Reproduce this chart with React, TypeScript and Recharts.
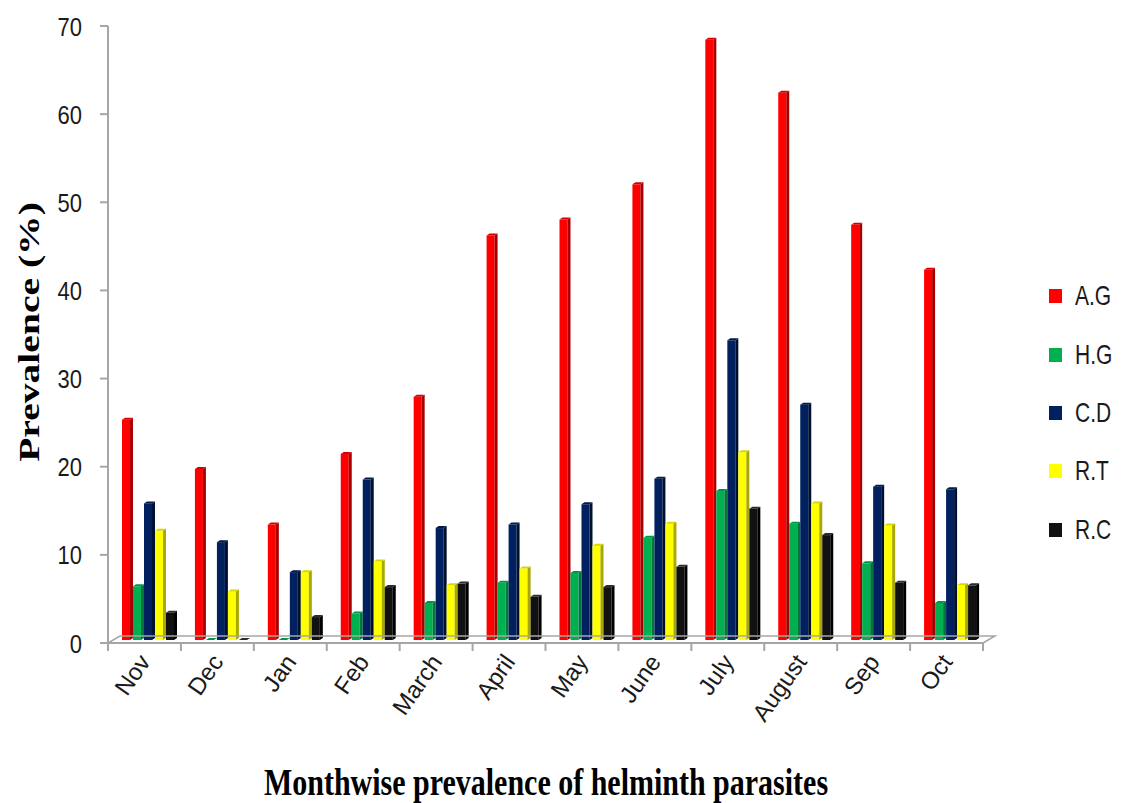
import React from 'react';
import { BarChart, Bar, XAxis, YAxis } from 'recharts';

// Month categories (Nov to Oct)
const months = ['Nov', 'Dec', 'Jan', 'Feb', 'March', 'April', 'May', 'June', 'July', 'August', 'Sep', 'Oct'];

// Prevalence (%) per parasite
const agValues = [25.0, 19.4, 13.1, 21.1, 27.6, 45.9, 47.7, 51.7, 68.1, 62.1, 47.1, 42.0];
const hgValues = [6.1, 0, 0, 3.0, 4.2, 6.5, 7.6, 11.6, 16.9, 13.2, 8.7, 4.2];
const cdValues = [15.5, 11.1, 7.7, 18.2, 12.7, 13.1, 15.4, 18.3, 34.0, 26.7, 17.4, 17.1];
const rtValues = [12.4, 5.5, 7.7, 8.9, 6.2, 8.1, 10.7, 13.2, 21.3, 15.5, 13.0, 6.2];
const rcValues = [3.1, 0, 2.6, 6.0, 6.4, 4.9, 6.0, 8.3, 14.9, 11.9, 6.5, 6.2];

const seriesNames = ['A.G', 'H.G', 'C.D', 'R.T', 'R.C'];
const seriesKeys = ['ag', 'hg', 'cd', 'rt', 'rc'];
const frontColors = ['#FF0000', '#00B050', '#002060', '#FFFF00', '#111111'];
const sideColors = ['#A80000', '#00783A', '#00112F', '#A8A800', '#000000'];
const topColors = ['#D40000', '#009444', '#001845', '#D6D600', '#2A2A2A'];

const yTicks = [0, 10, 20, 30, 40, 50, 60, 70];

const data = months.map((m, i) => ({
  month: m,
  ag: agValues[i],
  hg: hgValues[i],
  cd: cdValues[i],
  rt: rtValues[i],
  rc: rcValues[i],
}));

const CHART_W = 1105;
const CHART_H = 795;
const MARGIN = { top: 18, right: 130, bottom: 100, left: 0 };
const Y_AXIS_W = 100;
const X_AXIS_H = 60;
const PLOT_W = CHART_W - MARGIN.left - MARGIN.right - Y_AXIS_W;
const BAND = PLOT_W / months.length;

const AXIS_GRAY = '#A6A6A6';
const SANS = '"Liberation Sans", Arial, sans-serif';
const SERIF = '"Liberation Serif", "Times New Roman", serif';

// Bar with a shallow 3-D look: front face, darker right side and a top bevel
const make3DBar = (idx: number) => (props: any) => {
  const { x, y, width, height } = props;
  const d = 3;
  const shiftX = 6;
  const shiftY = -3;
  const h = Math.max(height || 0, 0);
  const fx = x + shiftX;
  const fy = y + shiftY;
  const fw = Math.max(width - d, 1);
  return (
    <g>
      <rect x={fx} y={fy} width={fw} height={h} fill={frontColors[idx]} />
      <polygon
        points={`${fx + fw},${fy} ${fx + fw + d},${fy - 2} ${fx + fw + d},${fy + h - 2} ${fx + fw},${fy + h}`}
        fill={sideColors[idx]}
      />
      <polygon
        points={`${fx},${fy} ${fx + d},${fy - 2} ${fx + fw + d},${fy - 2} ${fx + fw},${fy}`}
        fill={topColors[idx]}
      />
    </g>
  );
};

const MonthTick = (props: any) => {
  const { x, y, payload, index } = props;
  const half = BAND / 2;
  const last = index === months.length - 1;
  return (
    <g>
      {index === 0 && (
        <path
          d={`M ${x - half} ${y} L ${x - half + 12} ${y - 7} L ${x - half + PLOT_W + 12} ${y - 7} L ${x - half + PLOT_W} ${y}`}
          fill="none"
          stroke={AXIS_GRAY}
          strokeWidth={1.5}
        />
      )}
      <line x1={x - half} y1={y} x2={x - half} y2={y + 8} stroke={AXIS_GRAY} strokeWidth={2} />
      {last && <line x1={x + half} y1={y} x2={x + half} y2={y + 8} stroke={AXIS_GRAY} strokeWidth={2} />}
      <text
        transform={`translate(${x + 7},${y + 19}) rotate(-55)`}
        textAnchor="end"
        fontFamily={SANS}
        fontSize={24}
        fill="#1a1a1a"
      >
        {payload.value}
      </text>
    </g>
  );
};

const ValueTick = (props: any) => {
  const { x, y, payload } = props;
  return (
    <text
      transform={`translate(${x},${y}) scale(1,1.2)`}
      textAnchor="end"
      dy="0.36em"
      fontFamily={SANS}
      fontSize={22}
      fill="#1a1a1a"
    >
      {payload.value}
    </text>
  );
};

export default function App() {
  return (
    <div style={{ position: 'relative', width: 1113, height: CHART_H, background: '#fff' }}>
      <BarChart
        width={CHART_W}
        height={CHART_H}
        data={data}
        margin={MARGIN}
        barGap={0}
        barCategoryGap={8}
      >
        <XAxis
          dataKey="month"
          height={X_AXIS_H}
          interval={0}
          tickLine={false}
          tickSize={0}
          tickMargin={0}
          axisLine={{ stroke: AXIS_GRAY, strokeWidth: 2 }}
          tick={<MonthTick />}
        />
        <YAxis
          width={Y_AXIS_W}
          domain={[0, 70]}
          ticks={yTicks}
          interval={0}
          tickSize={8}
          tickMargin={18}
          tickLine={{ stroke: AXIS_GRAY, strokeWidth: 2 }}
          axisLine={{ stroke: AXIS_GRAY, strokeWidth: 2 }}
          tick={<ValueTick />}
        />
        {seriesKeys.map((k, i) => (
          <Bar
            key={k}
            dataKey={k}
            name={seriesNames[i]}
            fill={frontColors[i]}
            isAnimationActive={false}
            shape={make3DBar(i)}
          />
        ))}
      </BarChart>

      <svg
        width={CHART_W}
        height={CHART_H}
        style={{ position: 'absolute', left: 0, top: 0, pointerEvents: 'none', overflow: 'visible' }}
      >
        <text
          transform="translate(20,324) scale(1,1.32) rotate(-90)"
          textAnchor="middle"
          dy="0.35em"
          fontFamily={SERIF}
          fontWeight="bold"
          fontSize={30}
          fill="#000"
        >
          Prevalence (%)
        </text>
        <text
          transform="translate(538,787) scale(1,1.28)"
          textAnchor="middle"
          fontFamily={SERIF}
          fontWeight="bold"
          fontSize={30}
          fill="#000"
        >
          Monthwise prevalence of helminth parasites
        </text>
      </svg>

      {seriesNames.map((n, i) => (
        <div
          key={n}
          style={{
            position: 'absolute',
            left: 1041,
            top: [288, 347, 405, 463, 522][i] - 14,
            height: 28,
            width: 72,
            display: 'flex',
            alignItems: 'center',
            whiteSpace: 'nowrap',
          }}
        >
          <span style={{ width: 13, height: 14, background: frontColors[i], display: 'inline-block' }} />
          <span
            style={{
              marginLeft: 13,
              fontFamily: SANS,
              fontSize: 21,
              color: '#1a1a1a',
              display: 'inline-block',
              transform: 'scaleY(1.3)',
            }}
          >
            {n}
          </span>
        </div>
      ))}
    </div>
  );
}
